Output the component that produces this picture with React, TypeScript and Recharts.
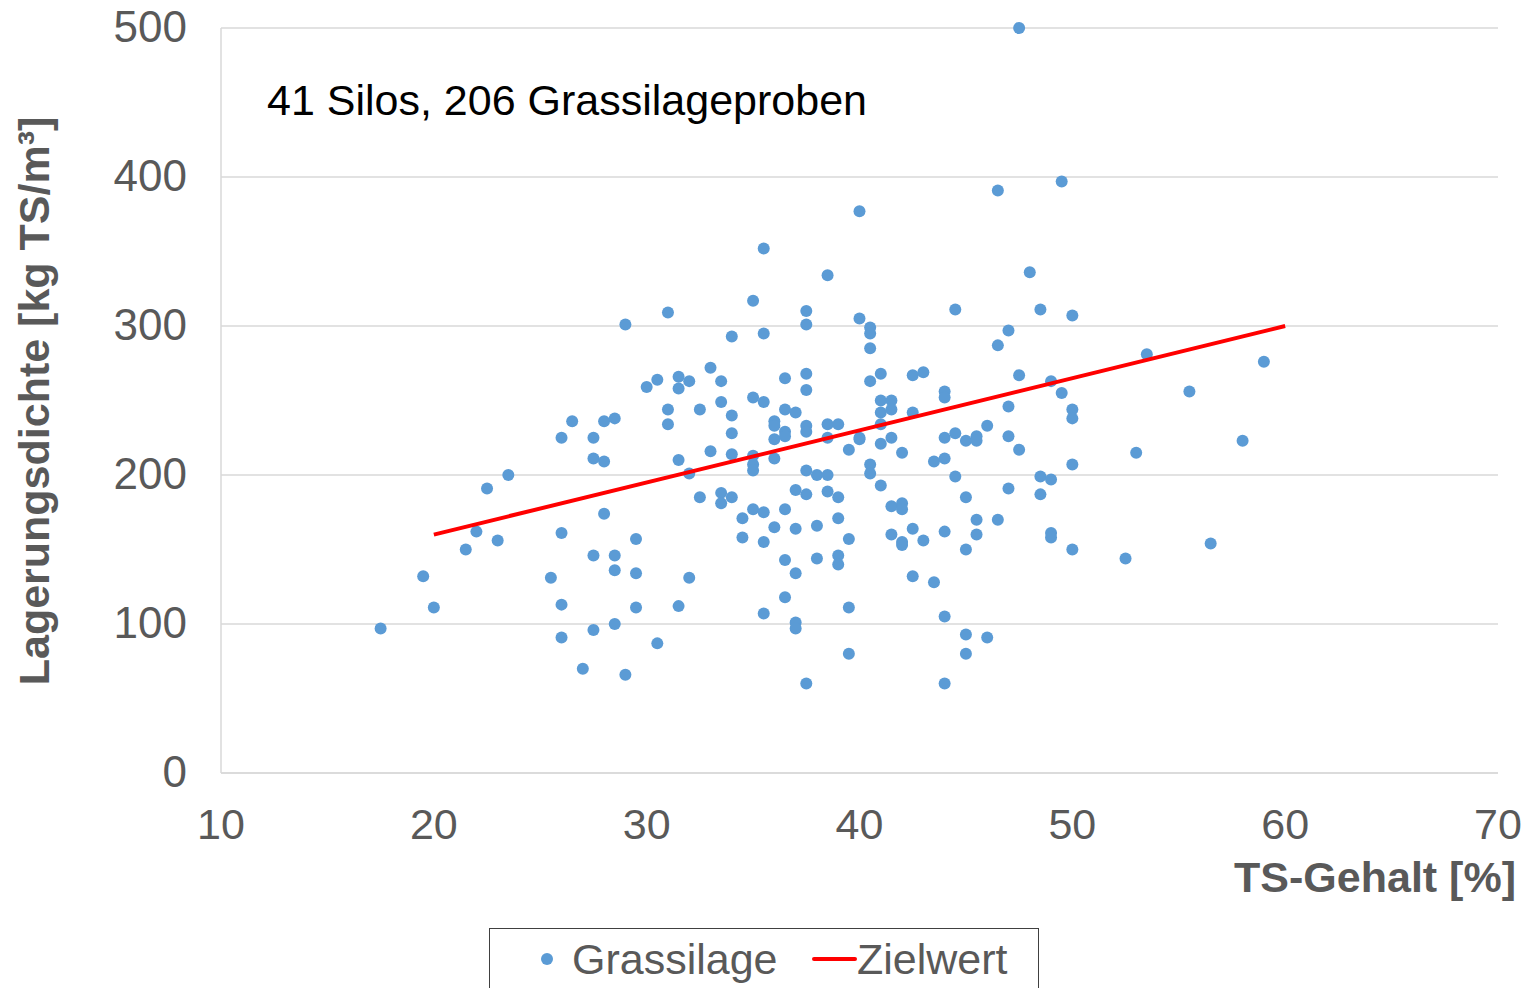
import { ScatterChart, Scatter, XAxis, YAxis, CartesianGrid } from 'recharts';

// TS-Gehalt [%] of every sample
const tsGehalt = [
  17.5, 19.5, 20, 21.5, 22, 22.5, 23, 23.5, 25.5,
  26, 26, 26, 26, 26.5, 27, 27.5, 27.5, 27.5, 27.5,
  28, 28, 28, 28.5, 28.5, 28.5, 28.5, 29, 29, 29.5, 29.5, 29.5,
  30, 30.5, 30.5, 31, 31, 31, 31.5, 31.5, 31.5, 31.5, 32, 32, 32,
  32.5, 32.5, 33, 33, 33.5, 33.5, 33.5, 33.5, 34, 34, 34, 34, 34,
  34.5, 34.5, 35, 35, 35, 35, 35, 35, 35.5, 35.5, 35.5, 35.5, 35.5, 35.5,
  36, 36, 36, 36, 36, 36.5, 36.5, 36.5, 36.5, 36.5, 36.5, 36.5,
  37, 37, 37, 37, 37, 37, 37.5, 37.5, 37.5, 37.5, 37.5, 37.5, 37.5, 37.5, 37.5,
  38, 38, 38, 38.5, 38.5, 38.5, 38.5, 38.5, 39, 39, 39, 39, 39,
  39.5, 39.5, 39.5, 39.5, 40, 40, 40, 40, 40.5, 40.5, 40.5, 40.5, 40.5, 40.5,
  41, 41, 41, 41, 41, 41, 41.5, 41.5, 41.5, 41.5, 41.5, 42, 42, 42, 42, 42,
  42.5, 42.5, 42.5, 42.5, 43, 43, 43.5, 43.5, 44, 44, 44, 44, 44, 44, 44,
  44.5, 44.5, 44.5, 45, 45, 45, 45, 45, 45.5, 45.5, 45.5, 45.5, 46, 46,
  46.5, 46.5, 46.5, 47, 47, 47, 47, 47.5, 47.5, 47.5, 48, 48.5, 48.5, 48.5,
  49, 49, 49, 49, 49.5, 49.5, 50, 50, 50, 50, 50,
  52.5, 53, 53.5, 55.5, 56.5, 58, 59,
];

// Lagerungsdichte [kg TS/m³], same order as tsGehalt
const lagerungsdichte = [
  97, 132, 111, 150, 162, 191, 156, 200, 131,
  225, 161, 113, 91, 236, 70, 225, 211, 146, 96,
  236, 209, 174, 238, 146, 136, 100, 301, 66, 157, 134, 111,
  259, 264, 87, 309, 244, 234, 266, 258, 210, 112, 263, 201, 131,
  244, 185, 272, 216, 263, 249, 188, 181, 293, 240, 228, 214, 185,
  171, 158, 317, 252, 213, 207, 203, 177, 352, 295, 249, 175, 155, 107,
  236, 233, 224, 211, 165, 265, 244, 229, 226, 177, 143, 118,
  242, 190, 164, 134, 101, 97, 310, 301, 268, 257, 233, 229, 203, 187, 60,
  200, 166, 144, 334, 234, 225, 200, 189, 234, 185, 171, 146, 140,
  217, 157, 111, 80, 377, 305, 225, 224, 299, 295, 285, 263, 207, 201,
  268, 250, 242, 234, 221, 193, 250, 244, 225, 179, 160, 215, 181, 177, 155, 153,
  267, 242, 164, 132, 269, 156, 209, 128, 256, 252, 225, 211, 162, 105, 60,
  311, 228, 199, 223, 185, 150, 93, 80, 226, 223, 170, 160, 233, 91,
  391, 287, 170, 297, 246, 226, 191, 500, 267, 217, 336, 311, 199, 187,
  263, 197, 161, 158, 397, 255, 307, 244, 238, 207, 150,
  144, 215, 281, 256, 154, 223, 276,
];

// Zielwert line end points
const zielTs = [20, 60];
const zielDichte = [160, 300];

const xTicks = [10, 20, 30, 40, 50, 60, 70];
const yTicks = [0, 100, 200, 300, 400, 500];

const proben = tsGehalt.map((x, i) => ({ x, y: lagerungsdichte[i] }));
const ziel = zielTs.map((x, i) => ({ x, y: zielDichte[i] }));

const FONT = '"Liberation Sans", Arial, Helvetica, sans-serif';
const GRAU = '#595959';
const BLAU = '#5B9BD5';
const ROT = '#FF0000';

function Punkt(props: { cx?: number; cy?: number }) {
  if (props.cx == null || props.cy == null) return <g />;
  return <circle cx={props.cx} cy={props.cy} r={6} fill={BLAU} />;
}

function LegendBox() {
  const text = {
    position: 'absolute' as const,
    top: 9,
    fontSize: 43,
    lineHeight: '42px',
    color: GRAU,
    whiteSpace: 'nowrap' as const,
  };
  return (
    <div
      style={{
        position: 'absolute',
        left: 489,
        top: 928,
        width: 550,
        height: 90,
        border: '1.5px solid #404040',
        boxSizing: 'border-box',
        background: '#fff',
        fontFamily: FONT,
      }}
    >
      <div
        style={{
          position: 'absolute',
          left: 51,
          top: 24,
          width: 12,
          height: 12,
          borderRadius: 6,
          background: BLAU,
        }}
      />
      <span style={{ ...text, left: 82 }}>Grassilage</span>
      <div
        style={{
          position: 'absolute',
          left: 322,
          top: 28,
          width: 45,
          height: 4,
          borderRadius: 2,
          background: ROT,
        }}
      />
      <span style={{ ...text, left: 367 }}>Zielwert</span>
    </div>
  );
}

export default function App() {
  return (
    <div
      style={{
        position: 'absolute',
        left: 0,
        top: 0,
        width: 1538,
        height: 988,
        overflow: 'hidden',
        background: '#fff',
        fontFamily: FONT,
      }}
    >
      <ScatterChart
        width={1538}
        height={988}
        margin={{ top: 28, right: 40, bottom: 155, left: 101 }}
      >
        <CartesianGrid vertical={false} stroke="#d9d9d9" strokeWidth={1.5} />
        <XAxis
          type="number"
          dataKey="x"
          domain={[10, 70]}
          ticks={xTicks}
          height={60}
          stroke="#d9d9d9"
          strokeWidth={1.5}
          tickLine={false}
          tickSize={0}
          tickMargin={35}
          tick={{ fontSize: 43, fill: GRAU, fontFamily: FONT }}
          label={{
            content: () => (
              <text
                x={1516}
                y={892}
                textAnchor="end"
                fontSize={43}
                fontWeight="bold"
                fill={GRAU}
                fontFamily={FONT}
              >
                TS-Gehalt [%]
              </text>
            ),
          }}
        />
        <YAxis
          type="number"
          dataKey="y"
          domain={[0, 500]}
          ticks={yTicks}
          width={120}
          stroke="#d9d9d9"
          strokeWidth={1.5}
          tickLine={false}
          tickSize={0}
          tickMargin={34}
          tick={{ fontSize: 44, fill: GRAU, fontFamily: FONT, dy: -2 }}
          label={{
            content: () => (
              <text
                x={49}
                y={401}
                transform="rotate(-90 49 401)"
                textAnchor="middle"
                fontSize={43}
                fontWeight="bold"
                fill={GRAU}
                fontFamily={FONT}
              >
                Lagerungsdichte [kg TS/m³]
              </text>
            ),
          }}
        />
        <Scatter
          name="Grassilage"
          data={proben}
          fill={BLAU}
          shape={<Punkt />}
          isAnimationActive={false}
        />
        <Scatter
          name="Zielwert"
          data={ziel}
          line={{ stroke: ROT, strokeWidth: 4 }}
          lineType="joint"
          shape={() => <g />}
          isAnimationActive={false}
        />
      </ScatterChart>
      <div
        style={{
          position: 'absolute',
          left: 267,
          top: 79,
          fontSize: 43,
          lineHeight: '42px',
          color: '#000',
          whiteSpace: 'nowrap',
        }}
      >
        41 Silos, 206 Grassilageproben
      </div>
      <LegendBox />
    </div>
  );
}
